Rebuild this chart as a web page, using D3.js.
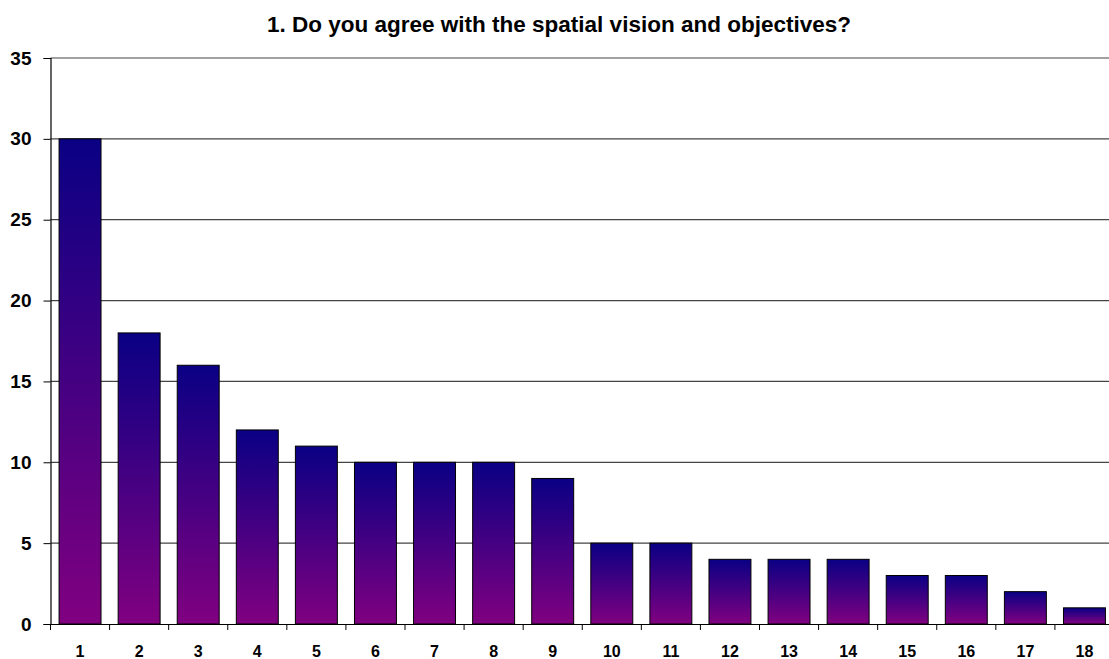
<!DOCTYPE html>
<html><head><meta charset="utf-8">
<script src="https://cdn.jsdelivr.net/npm/d3@7"></script>
<style>body{margin:0;background:#fff}svg{display:block}text{font-family:"Liberation Sans",Arial,sans-serif;font-weight:bold;fill:#000}</style>
</head><body>
<script>
const categories = ["1","2","3","4","5","6","7","8","9","10","11","12","13","14","15","16","17","18"];
const values = [30,18,16,12,11,10,10,10,9,5,5,4,4,4,3,3,2,1];
const yTicks = [0,5,10,15,20,25,30,35];
const title = "1. Do you agree with the spatial vision and objectives?";

(function(){
const W = 1109, H = 659;
const svg = d3.select("body").append("svg").attr("width", W).attr("height", H);
const pL = 50.5, pR = 1114, pT = 58, pB = 624;

const defs = svg.append("defs");
const g = defs.append("linearGradient").attr("id","bg").attr("x1",0).attr("y1",0).attr("x2",0).attr("y2",1);
g.append("stop").attr("offset","0%").attr("stop-color","#0a0084");
g.append("stop").attr("offset","100%").attr("stop-color","#800080");

const x = d3.scaleBand().domain(categories).range([pL, pR]).paddingInner(0.29).paddingOuter(0.145);
const y = d3.scaleLinear().domain([0,35]).range([pB, pT]);

svg.append("g").selectAll("line").data(yTicks.filter(d=>d>0)).join("line")
  .attr("x1", pL).attr("x2", W).attr("y1", d=>y(d)).attr("y2", d=>y(d))
  .attr("stroke","#444").attr("stroke-width",1.2);

svg.append("g").selectAll("rect").data(values).join("rect")
  .attr("x",(d,i)=>x(categories[i])).attr("width",x.bandwidth())
  .attr("y",d=>y(d)).attr("height",d=>y(0)-y(d))
  .attr("fill","url(#bg)").attr("stroke","#000").attr("stroke-width",1);

const ya = svg.append("g").attr("transform",`translate(${pL},0)`)
  .call(d3.axisLeft(y).tickValues(yTicks).tickSize(7).tickPadding(12));
ya.select(".domain").attr("stroke","#000").attr("stroke-width",1.2);
ya.selectAll(".tick line").attr("stroke","#000");
ya.selectAll("text").style("font-size","19px").attr("font-family",null);

const xa = svg.append("g").attr("transform",`translate(0,${pB})`)
  .call(d3.axisBottom(x).tickSize(0).tickPadding(22));
xa.select(".domain").attr("stroke","#000").attr("stroke-width",1.2);
xa.selectAll("text").style("font-size","16px").attr("font-family",null);
const n = categories.length;
svg.append("g").selectAll("line").data(d3.range(n+1)).join("line")
  .attr("x1",i=>pL+i*(pR-pL)/n).attr("x2",i=>pL+i*(pR-pL)/n)
  .attr("y1",pB).attr("y2",pB+6).attr("stroke","#000");

svg.append("text").attr("x",559).attr("y",31.5).attr("text-anchor","middle")
  .style("font-size","22.5px").text(title);
})();
</script>
</body></html>
